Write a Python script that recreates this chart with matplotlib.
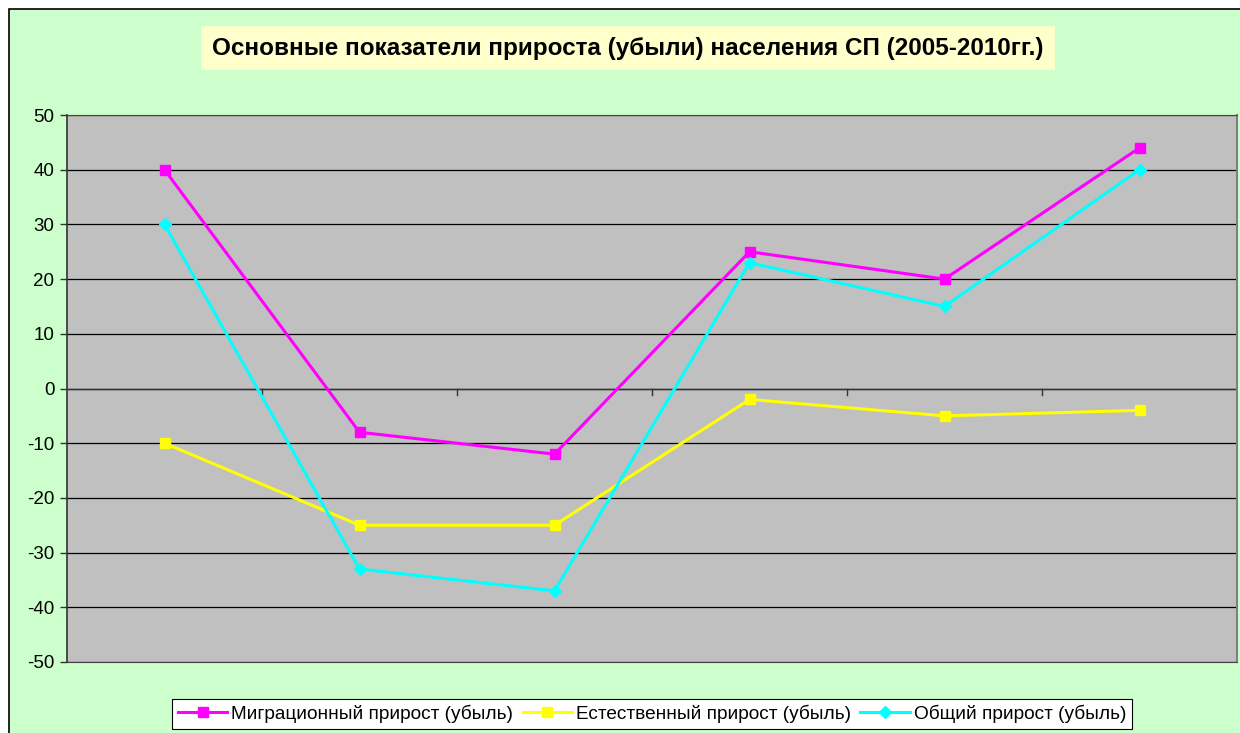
import matplotlib.pyplot as plt
from matplotlib.patches import Rectangle
from matplotlib.lines import Line2D

plt.rcParams['font.family'] = ['Liberation Sans', 'DejaVu Sans']
plt.rcParams['axes.unicode_minus'] = False

# Data
years = ['2005', '2006', '2007', '2008', '2009', '2010']
migr = [40, -8, -12, 25, 20, 44]
natural = [-10, -25, -25, -2, -5, -4]
total = [30, -33, -37, 23, 15, 40]

W, H = 1240, 733
fig = plt.figure(figsize=(W / 100, H / 100), dpi=100, facecolor='white')

# chart area background with border
fig.patches.append(Rectangle((9 / W, -0.01), 1.02, (H - 9) / H + 0.01, transform=fig.transFigure,
                             facecolor='#CCFFCC', edgecolor='black', linewidth=1.2, zorder=0))

# plot area
ax = fig.add_axes([67 / W, (H - 662) / H, 1170 / W, 547 / H])
ax.set_zorder(2)
ax.set_facecolor('#C0C0C0')
x = list(range(len(years)))

ax.plot(x, migr, color='#FF00FF', linewidth=2.2, marker='s', markersize=7, zorder=3)
ax.plot(x, natural, color='#FFFF00', linewidth=2.2, marker='s', markersize=7, zorder=3)
ax.plot(x, total, color='#00FFFF', linewidth=2.2, marker='D', markersize=6, zorder=3)

ax.set_xlim(-0.5, 5.5)
ax.set_ylim(-50, 50)
ax.set_yticks(range(-50, 51, 10))
ax.yaxis.grid(True, color='black', linewidth=0.9)
ax.set_axisbelow(True)
ax.tick_params(axis='y', labelsize=13.5, length=5, width=1, color='#333333', pad=4)
ax.set_xticks([])

# category axis at zero with ticks between categories
ax.axhline(0, color='#333333', linewidth=1, zorder=2)
for b in [0.5, 1.5, 2.5, 3.5, 4.5]:
    ax.plot([b, b], [0, -1.1], color='#333333', linewidth=1, zorder=2)

for s in ['top', 'bottom']:
    ax.spines[s].set_color('#444444')
    ax.spines[s].set_linewidth(0.8)
ax.spines['right'].set_color('#808080')
ax.spines['right'].set_linewidth(1.5)
ax.spines['left'].set_color('#333333')
ax.spines['left'].set_linewidth(1.2)

# title
fig.text(628 / W, 1 - 48 / H, 'Основные показатели прироста (убыли) населения СП (2005-2010гг.)',
         ha='center', va='center', fontsize=17.5, fontweight='bold', zorder=3,
         bbox=dict(boxstyle='square,pad=0.45', facecolor='#FFFFCC', edgecolor='none'))

# legend
handles = [
    Line2D([], [], color='#FF00FF', linewidth=2.2, marker='s', markersize=7),
    Line2D([], [], color='#FFFF00', linewidth=2.2, marker='s', markersize=7),
    Line2D([], [], color='#00FFFF', linewidth=2.2, marker='D', markersize=6),
]
labels = ['Миграционный прирост (убыль)', 'Естественный прирост (убыль)', 'Общий прирост (убыль)']
leg = fig.legend(handles, labels, loc='center', bbox_to_anchor=(652 / W, 1 - 714 / H), ncol=3,
                 fontsize=13.7, frameon=True, fancybox=False, framealpha=1, edgecolor='black',
                 handlelength=2.6, handletextpad=0.2, columnspacing=0.5, borderpad=0.3)
leg.set_zorder(3)
leg.get_frame().set_linewidth(0.8)

fig.savefig('out.png', dpi=100, facecolor=fig.get_facecolor())
